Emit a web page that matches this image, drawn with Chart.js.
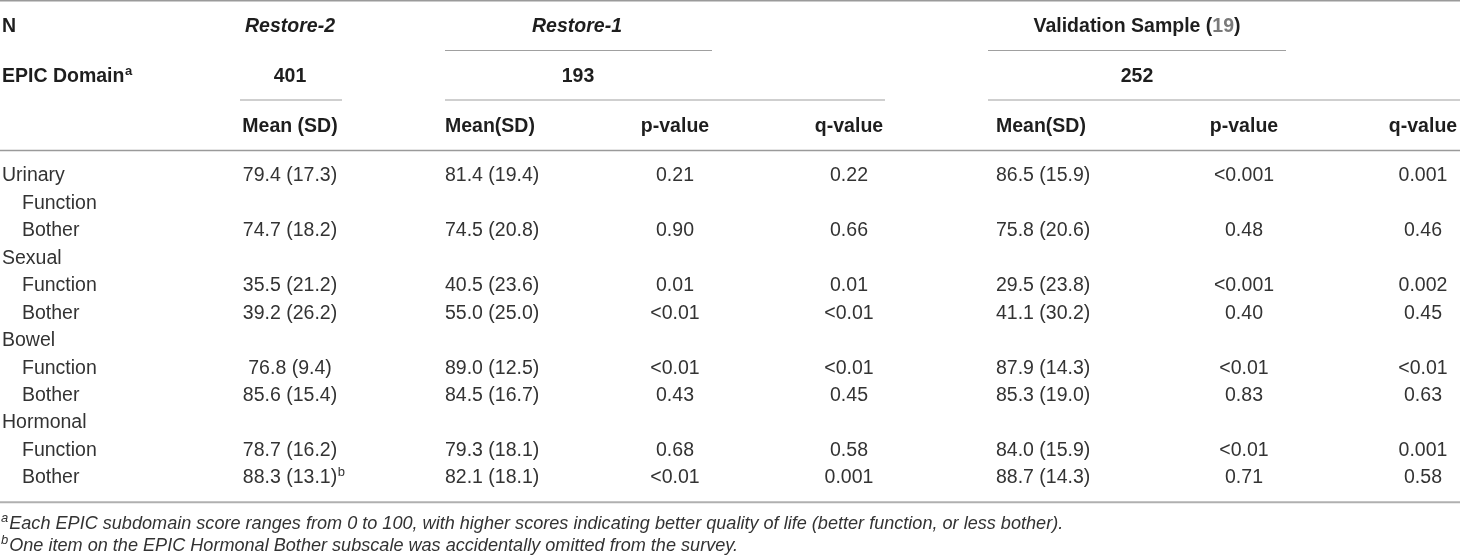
<!DOCTYPE html>
<html>
<head>
<meta charset="utf-8">
<script src="https://cdn.jsdelivr.net/npm/chart.js@4.4.1/dist/chart.umd.min.js"></script>
<style>
    html, body { margin: 0; padding: 0; background: #fff; }
    #wrap { width: 1460px; height: 559px; }
</style>
</head>
<body>
<div id="wrap"><canvas id="table-canvas" width="1460" height="559"></canvas></div>
<script>
// ---- table content ----
const rowLabels = ['Urinary', 'Function', 'Bother', 'Sexual', 'Function', 'Bother',
    'Bowel', 'Function', 'Bother', 'Hormonal', 'Function', 'Bother'];
const rowLevel = [0, 1, 1, 0, 1, 1, 0, 1, 1, 0, 1, 1];

const restore2Mean = [79.4, null, 74.7, null, 35.5, 39.2, null, 76.8, 85.6, null, 78.7, 88.3];
const restore2SD   = [17.3, null, 18.2, null, 21.2, 26.2, null, 9.4, 15.4, null, 16.2, 13.1];

const restore1Mean = [81.4, null, 74.5, null, 40.5, 55.0, null, 89.0, 84.5, null, 79.3, 82.1];
const restore1SD   = [19.4, null, 20.8, null, 23.6, 25.0, null, 12.5, 16.7, null, 18.1, 18.1];
const restore1P    = ['0.21', '', '0.90', '', '0.01', '<0.01', '', '<0.01', '0.43', '', '0.68', '<0.01'];
const restore1Q    = ['0.22', '', '0.66', '', '0.01', '<0.01', '', '<0.01', '0.45', '', '0.58', '0.001'];

const validMean = [86.5, null, 75.8, null, 29.5, 41.1, null, 87.9, 85.3, null, 84.0, 88.7];
const validSD   = [15.9, null, 20.6, null, 23.8, 30.2, null, 14.3, 19.0, null, 15.9, 14.3];
const validP    = ['<0.001', '', '0.48', '', '<0.001', '0.40', '', '<0.01', '0.83', '', '<0.01', '0.71'];
const validQ    = ['0.001', '', '0.46', '', '0.002', '0.45', '', '<0.01', '0.63', '', '0.001', '0.58'];

const sampleSizes = ['401', '193', '252'];
const groupTitles = ['Restore-2', 'Restore-1', 'Validation Sample ('];
const footnotes = [
    ['a', 'Each EPIC subdomain score ranges from 0 to 100, with higher scores indicating better quality of life (better function, or less bother).'],
    ['b', 'One item on the EPIC Hormonal Bother subscale was accidentally omitted from the survey.']
];

// ---- layout (in scale units = px) ----
const FONT = '"Liberation Sans", Arial, Helvetica, sans-serif';
const BODY_SIZE = 19.5;
const colX = { label: 2, indent: 22, r2: 290, r1Mean: 445, r1P: 675, r1Q: 849, vMean: 996, vP: 1244, vQ: 1423 };
const headY = [27, 77, 127];
const firstRowY = 176;
const rowStep = 27.45;

function fmtMeanSD(m, sd) {
    if (m === null) return '';
    return `${m.toFixed(1)} (${sd.toFixed(1)})`;
}

const tablePlugin = {
    id: 'tableDraw',
    afterDraw(chart) {
        const ctx = chart.ctx;
        const xs = chart.scales.x;
        const ys = chart.scales.y;
        const X = v => xs.getPixelForValue(v);
        const Y = v => ys.getPixelForValue(v);

        ctx.save();
        ctx.textBaseline = 'middle';

        function text(str, x, y, opts = {}) {
            ctx.font = `${opts.style || 'normal'} ${opts.weight || 'normal'} ${opts.size || BODY_SIZE}px ${FONT}`;
            ctx.fillStyle = opts.color || '#333';
            ctx.textAlign = opts.align || 'left';
            ctx.fillText(str, X(x), Y(y));
            return ctx.measureText(str).width;
        }
        function sup(str, xPx, y, size, style, weight, color) {
            ctx.font = `${style || 'normal'} ${weight || 'normal'} ${size}px ${FONT}`;
            ctx.fillStyle = color || '#333';
            ctx.textAlign = 'left';
            ctx.fillText(str, xPx, Y(y) - size * 0.45);
        }
        function rule(x1, x2, y, w, color) {
            ctx.beginPath();
            ctx.strokeStyle = color || '#a0a0a0';
            ctx.lineWidth = w;
            ctx.moveTo(X(x1), Y(y));
            ctx.lineTo(X(x2), Y(y));
            ctx.stroke();
        }

        // rules
        rule(0, 1460, 0.8, 1.6, '#9a9a9a');
        rule(445, 712, 50.5, 1.1);
        rule(988, 1286, 50.5, 1.1);
        rule(240, 342, 100, 1.1);
        rule(445, 885, 100, 1.1);
        rule(988, 1460, 100, 1.1);
        rule(0, 1460, 150.5, 1.6, '#9a9a9a');
        rule(0, 1460, 502.2, 2, '#b0b0b0');

        // header
        const hb = { weight: 'bold', color: '#1e1e1e' };
        text('N', colX.label, headY[0], hb);
        text(groupTitles[0], colX.r2, headY[0], { ...hb, style: 'italic', align: 'center' });
        text(groupTitles[1], 577, headY[0], { ...hb, style: 'italic', align: 'center' });

        // "Validation Sample (19)" with grey citation
        ctx.font = `normal bold ${BODY_SIZE}px ${FONT}`;
        const wA = ctx.measureText(groupTitles[2]).width;
        const wB = ctx.measureText('19').width;
        const wC = ctx.measureText(')').width;
        let sx = X(1137) - (wA + wB + wC) / 2;
        ctx.textAlign = 'left';
        ctx.fillStyle = '#1e1e1e';
        ctx.fillText(groupTitles[2], sx, Y(headY[0]));
        ctx.fillStyle = '#7a7a7a';
        ctx.fillText('19', sx + wA, Y(headY[0]));
        ctx.fillStyle = '#1e1e1e';
        ctx.fillText(')', sx + wA + wB, Y(headY[0]));

        const wEpic = text('EPIC Domain', colX.label, headY[1], hb);
        sup('a', X(colX.label) + wEpic + 0.5, headY[1], 13, 'normal', 'bold', '#1e1e1e');
        text(sampleSizes[0], colX.r2, headY[1], { ...hb, align: 'center' });
        text(sampleSizes[1], 578, headY[1], { ...hb, align: 'center' });
        text(sampleSizes[2], 1137, headY[1], { ...hb, align: 'center' });

        text('Mean (SD)', colX.r2, headY[2], { ...hb, align: 'center' });
        text('Mean(SD)', colX.r1Mean, headY[2], hb);
        text('p-value', colX.r1P, headY[2], { ...hb, align: 'center' });
        text('q-value', colX.r1Q, headY[2], { ...hb, align: 'center' });
        text('Mean(SD)', colX.vMean, headY[2], hb);
        text('p-value', colX.vP, headY[2], { ...hb, align: 'center' });
        text('q-value', colX.vQ, headY[2], { ...hb, align: 'center' });

        // body rows
        rowLabels.forEach((lab, i) => {
            const y = firstRowY + i * rowStep;
            text(lab, rowLevel[i] ? colX.indent : colX.label, y);
            const m2 = fmtMeanSD(restore2Mean[i], restore2SD[i]);
            const w2 = text(m2, colX.r2, y, { align: 'center' });
            if (i === rowLabels.length - 1) {
                sup('b', X(colX.r2) + w2 / 2 + 0.5, y, 13, 'normal', 'normal', '#333');
            }
            text(fmtMeanSD(restore1Mean[i], restore1SD[i]), colX.r1Mean, y);
            text(restore1P[i], colX.r1P, y, { align: 'center' });
            text(restore1Q[i], colX.r1Q, y, { align: 'center' });
            text(fmtMeanSD(validMean[i], validSD[i]), colX.vMean, y);
            text(validP[i], colX.vP, y, { align: 'center' });
            text(validQ[i], colX.vQ, y, { align: 'center' });
        });

        // footnotes
        const fnY = [524, 546];
        footnotes.forEach(([mark, note], i) => {
            sup(mark, X(1), fnY[i], 13, 'italic', 'normal', '#333');
            ctx.font = `italic normal 13px ${FONT}`;
            const wm = ctx.measureText(mark).width;
            ctx.font = `italic normal 18.1px ${FONT}`;
            ctx.fillStyle = '#333';
            ctx.fillText(note, X(1) + wm + 1, Y(fnY[i]));
        });

        ctx.restore();
    }
};

function init() {
    const canvas = document.getElementById('table-canvas');
    new Chart(canvas, {
        type: 'scatter',
        data: { datasets: [] },
        options: {
            responsive: false,
            animation: false,
            layout: { padding: 0 },
            plugins: { legend: { display: false }, tooltip: { enabled: false } },
            scales: {
                x: { type: 'linear', min: 0, max: 1460, display: false },
                y: { type: 'linear', min: 0, max: 559, reverse: true, display: false }
            }
        },
        plugins: [tablePlugin]
    });
}

document.addEventListener('DOMContentLoaded', init);
</script>
</body>
</html>
